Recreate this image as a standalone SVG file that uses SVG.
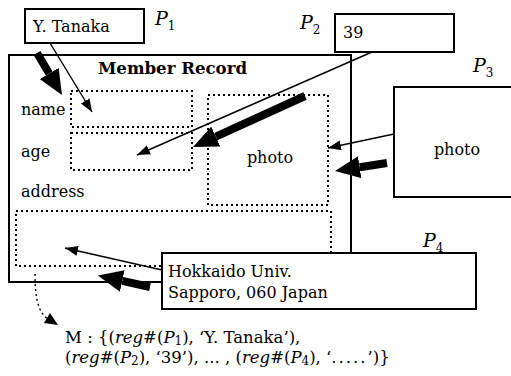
<svg xmlns="http://www.w3.org/2000/svg" width="511" height="376" viewBox="0 0 511 376">
<style>
text{font-family:"DejaVu Serif","Liberation Serif",serif;font-size:16px;fill:#000}
.b{font-weight:bold;font-size:16.6px}
.i{font-style:italic}
.pl{font-size:19px}
.box{fill:#fff;stroke:#000;stroke-width:2}
.dot{fill:none;stroke:#000;stroke-width:2;stroke-dasharray:2 3}
.thin{stroke:#000;stroke-width:1.4;fill:none}
.thick{stroke:#000;stroke-width:8;fill:none}
.f{font-size:16.5px}
</style>
<defs>
<marker id="ah" viewBox="0 -5 13 10" markerWidth="13" markerHeight="10" refX="13" refY="0" orient="auto" markerUnits="userSpaceOnUse"><path d="M0,-5L13,0L0,5z" fill="#000"/></marker>
<marker id="AH" viewBox="0 -11 25 22" markerWidth="25" markerHeight="22" refX="0" refY="0" orient="auto" markerUnits="userSpaceOnUse"><path d="M0,-11L25,0L0,11z" fill="#000"/></marker>
</defs>

<g id="record">
<rect class="box" x="9" y="55" width="342" height="227"/>
<text class="b" x="98" y="74">Member Record</text>
<text x="21" y="115">name</text>
<text x="21" y="157">age</text>
<text x="21" y="197">address</text>
</g>
<g id="name-field"><rect class="dot" x="71" y="91" width="121" height="36"/></g>
<g id="age-field"><rect class="dot" x="71" y="133" width="121" height="37"/></g>
<g id="photo-field"><rect class="dot" x="208" y="95" width="120" height="110"/><text x="270" y="163" text-anchor="middle">photo</text></g>
<g id="address-field"><rect class="dot" x="16" y="211" width="315" height="55"/></g>

<g id="p1"><rect class="box" x="25" y="9" width="119" height="34"/><text x="33" y="32" font-size="18">Y. Tanaka</text>
<text class="pl" x="155" y="25"><tspan class="i">P</tspan><tspan dy="5" font-size="12">1</tspan></text></g>
<g id="p2"><rect class="box" x="335" y="14" width="119" height="38"/><text x="343" y="38" font-size="16.5">39</text>
<text class="pl" x="300" y="29"><tspan class="i">P</tspan><tspan dy="5" font-size="12">2</tspan></text></g>
<g id="p3"><rect class="box" x="394" y="87" width="140" height="110"/><text x="457" y="155" text-anchor="middle">photo</text>
<text class="pl" x="473" y="72"><tspan class="i">P</tspan><tspan dy="5" font-size="12">3</tspan></text></g>
<g id="p4"><rect class="box" x="162" y="253" width="314" height="56"/><text x="168" y="277" font-size="17">Hokkaido Univ.</text><text x="168" y="298" font-size="17">Sapporo, 060 Japan</text>
<text class="pl" x="423" y="247"><tspan class="i">P</tspan><tspan dy="5" font-size="12">4</tspan></text></g>

<g id="connectors">
<line class="thin" x1="50" y1="43" x2="92" y2="112" marker-end="url(#ah)"/>
<line class="thick" x1="37" y1="53" x2="49.2" y2="73.5" marker-end="url(#AH)"/>
<line class="thin" x1="372" y1="52" x2="137" y2="155" marker-end="url(#ah)"/>
<line class="thick" x1="305" y1="96" x2="215.8" y2="136.6" marker-end="url(#AH)"/>
<line class="thin" x1="394" y1="134" x2="328" y2="148" marker-end="url(#ah)"/>
<line class="thick" x1="387" y1="163" x2="359.7" y2="167.2" marker-end="url(#AH)"/>
<line class="thin" x1="162" y1="270" x2="65" y2="248" marker-end="url(#ah)"/>
<line class="thick" x1="150" y1="287" x2="122.3" y2="280.9" marker-end="url(#AH)"/>
<path class="thin" d="M35,274 C35,298 38,312 48,319" stroke-dasharray="2 3" stroke-width="2"/>
<path d="M58,325 L44,323 L50,313 z" fill="#000"/>
</g>

<g id="formula">
<text class="f" x="65" y="343">M : {(<tspan class="i">reg#</tspan>(<tspan class="i">P</tspan><tspan dy="2" font-size="12">1</tspan><tspan dy="-2">), ‘Y. Tanaka’),</tspan></text>
<text class="f" x="65" y="363">(<tspan class="i">reg#</tspan>(<tspan class="i">P</tspan><tspan dy="2" font-size="12">2</tspan><tspan dy="-2">), ‘39’), ... , (</tspan><tspan class="i">reg#</tspan>(<tspan class="i">P</tspan><tspan dy="2" font-size="12">4</tspan><tspan dy="-2">), ‘</tspan><tspan letter-spacing="2">.....</tspan>’)}</text>
</g>
</svg>
